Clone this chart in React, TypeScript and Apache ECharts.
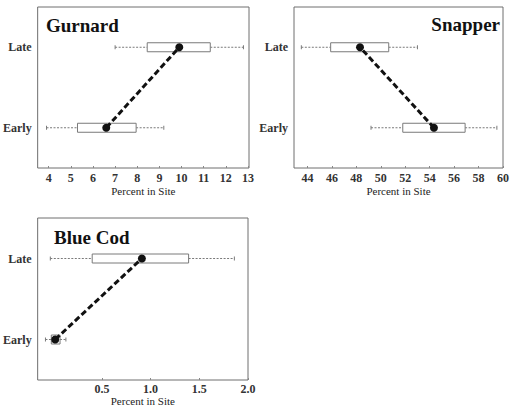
import React, { useEffect, useRef } from "react";
import * as echarts from "echarts";

// Rows (bottom to top on the category axis)
const rows = ["Early", "Late"];

// Gurnard: whisker ends, box edges and medians per row (Early, Late)
const gurnardLow = [3.9, 7.0];
const gurnardQ1 = [5.3, 8.45];
const gurnardMedian = [6.6, 9.9];
const gurnardQ3 = [7.95, 11.3];
const gurnardHigh = [9.2, 12.8];

// Snapper
const snapperLow = [49.2, 43.5];
const snapperQ1 = [51.8, 45.9];
const snapperMedian = [54.35, 48.3];
const snapperQ3 = [56.9, 50.65];
const snapperHigh = [59.5, 53.0];

// Blue Cod
const blueCodLow = [-0.08, -0.03];
const blueCodQ1 = [-0.02, 0.4];
const blueCodMedian = [0.02, 0.91];
const blueCodQ3 = [0.07, 1.39];
const blueCodHigh = [0.13, 1.86];

// Tick labels on each value axis
const gurnardTicks = [4, 5, 6, 7, 8, 9, 10, 11, 12, 13];
const snapperTicks = [44, 46, 48, 50, 52, 54, 56, 58, 60];
const blueCodTicks = [0.5, 1.0, 1.5, 2.0];

const titles = ["Gurnard", "Snapper", "Blue Cod"];
const axisTitle = "Percent in Site";

const SERIF = "'Liberation Serif', 'DejaVu Serif', serif";

type Panel = {
  low: number[];
  q1: number[];
  median: number[];
  q3: number[];
  high: number[];
  ticks: number[];
  min: number;
  max: number;
  decimals: number;
  grid: { left: number; top: number; width: number; height: number };
  nameGap: number;
  labelMargin: number;
};

const panels: Panel[] = [
  {
    low: gurnardLow, q1: gurnardQ1, median: gurnardMedian, q3: gurnardQ3, high: gurnardHigh,
    ticks: gurnardTicks, min: 3.5, max: 13.05, decimals: 0,
    grid: { left: 35, top: 7, width: 214, height: 161 },
    nameGap: 17, labelMargin: 4,
  },
  {
    low: snapperLow, q1: snapperQ1, median: snapperMedian, q3: snapperQ3, high: snapperHigh,
    ticks: snapperTicks, min: 42.9, max: 60, decimals: 0,
    grid: { left: 294, top: 7, width: 215, height: 161 },
    nameGap: 17, labelMargin: 4,
  },
  {
    low: blueCodLow, q1: blueCodQ1, median: blueCodMedian, q3: blueCodQ3, high: blueCodHigh,
    ticks: blueCodTicks, min: -0.16, max: 2.0, decimals: 1,
    grid: { left: 35, top: 218, width: 213, height: 162 },
    nameGap: 15, labelMargin: 3,
  },
];

function boxRenderer(params: any, api: any) {
  const cat = api.value(0);
  const lo = api.coord([api.value(1), cat]);
  const q1 = api.coord([api.value(2), cat]);
  const q3 = api.coord([api.value(3), cat]);
  const hi = api.coord([api.value(4), cat]);
  const y = lo[1];
  const h = 9;
  const cap = 2;
  const whisker = { stroke: "#7a7a7a", lineWidth: 1, lineDash: [2, 1.5] };
  return {
    type: "group",
    children: [
      { type: "line", shape: { x1: lo[0], y1: y, x2: q1[0], y2: y }, style: whisker },
      { type: "line", shape: { x1: q3[0], y1: y, x2: hi[0], y2: y }, style: whisker },
      { type: "line", shape: { x1: lo[0], y1: y - cap, x2: lo[0], y2: y + cap }, style: { stroke: "#7a7a7a", lineWidth: 1 } },
      { type: "line", shape: { x1: hi[0], y1: y - cap, x2: hi[0], y2: y + cap }, style: { stroke: "#7a7a7a", lineWidth: 1 } },
      {
        type: "rect",
        shape: { x: q1[0], y: y - h / 2, width: q3[0] - q1[0], height: h },
        style: { fill: "#ffffff", stroke: "#7a7a7a", lineWidth: 1 },
      },
    ],
  };
}

export default function App() {
  const ref = useRef<HTMLDivElement>(null);

  useEffect(() => {
    if (!ref.current) return;
    const chart = echarts.init(ref.current, null, { renderer: "svg" });

    const grids = panels.map((p) => ({
      ...p.grid,
      show: true,
      borderColor: "#6e6e6e",
      borderWidth: 1,
      backgroundColor: "transparent",
      containLabel: false,
    }));

    const xAxes = panels.map((p, i) => ({
      type: "value",
      gridIndex: i,
      min: p.min,
      max: p.max,
      name: axisTitle,
      nameLocation: "middle",
      nameGap: p.nameGap,
      nameTextStyle: { fontFamily: SERIF, fontSize: 11, color: "#222" },
      axisLine: { show: false },
      splitLine: { show: false },
      axisTick: {
        show: true,
        inside: true,
        length: 2,
        customValues: p.ticks,
        lineStyle: { color: "#888" },
      },
      axisLabel: {
        customValues: p.ticks,
        margin: p.labelMargin,
        fontFamily: SERIF,
        fontSize: 12,
        fontWeight: "bold",
        color: "#333",
        formatter: (v: number) => v.toFixed(p.decimals),
      },
    }));

    const yAxes = panels.map((_, i) => ({
      type: "category",
      gridIndex: i,
      data: rows,
      boundaryGap: true,
      axisLine: { show: false },
      axisTick: { show: false },
      splitLine: { show: false },
      axisLabel: {
        margin: 6,
        fontFamily: SERIF,
        fontSize: 12,
        fontWeight: "bold",
        color: "#333",
      },
    }));

    const series: any[] = [];
    panels.forEach((p, i) => {
      series.push({
        type: "custom",
        xAxisIndex: i,
        yAxisIndex: i,
        renderItem: boxRenderer,
        encode: { x: [1, 2, 3, 4], y: 0 },
        data: rows.map((r, k) => [r, p.low[k], p.q1[k], p.q3[k], p.high[k]]),
        z: 2,
        silent: true,
      });
      series.push({
        type: "line",
        xAxisIndex: i,
        yAxisIndex: i,
        data: rows.map((r, k) => [p.median[k], r]),
        lineStyle: { color: "#111", width: 3, type: [6, 3] },
        symbol: "circle",
        symbolSize: 8,
        itemStyle: { color: "#111" },
        z: 5,
        silent: true,
      });
    });

    const titleStyle = {
      fontFamily: SERIF,
      fontSize: 19,
      fontWeight: "bold",
      fill: "#111",
      textVerticalAlign: "middle",
    };

    chart.setOption({
      animation: false,
      backgroundColor: "#ffffff",
      grid: grids,
      xAxis: xAxes,
      yAxis: yAxes,
      series,
      graphic: [
        { type: "text", x: 46, y: 25, style: { ...titleStyle, text: titles[0], textAlign: "left" } },
        { type: "text", x: 500, y: 24, style: { ...titleStyle, text: titles[1], textAlign: "right" } },
        { type: "text", x: 54, y: 237, style: { ...titleStyle, text: titles[2], textAlign: "left" } },
      ],
    });

    return () => chart.dispose();
  }, []);

  return (
    <div
      ref={ref}
      style={{ position: "fixed", left: 0, top: 0, width: 512, height: 408, background: "#fff" }}
    />
  );
}
